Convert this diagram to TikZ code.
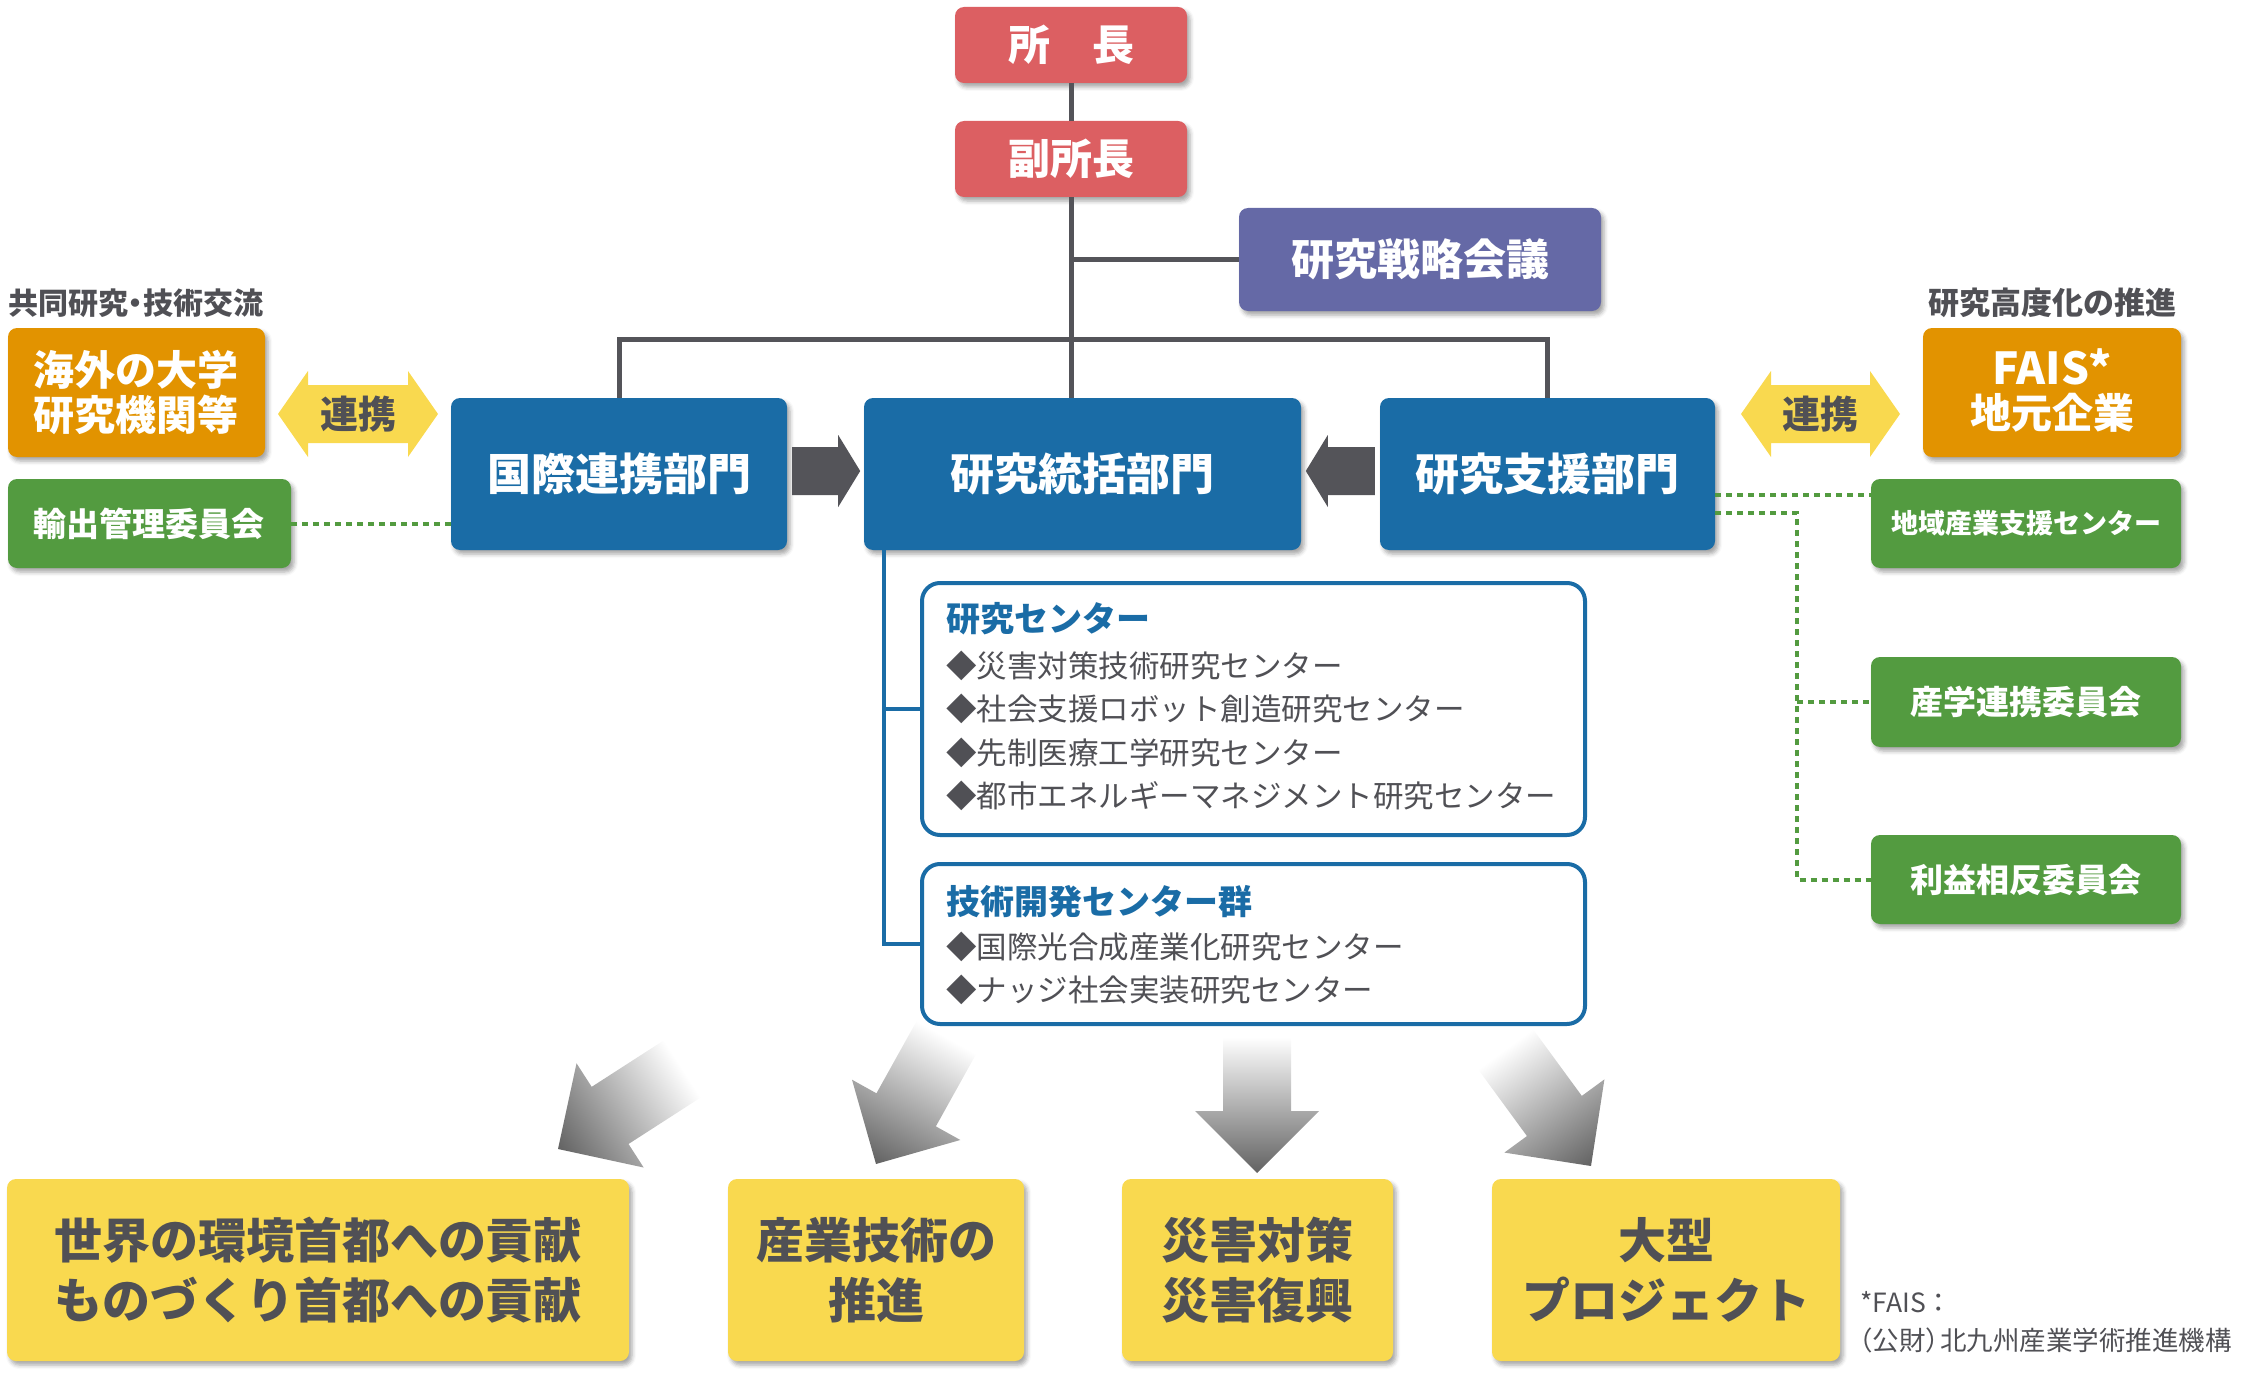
\documentclass[tikz,border=0pt]{standalone}
\usepackage{fontspec}
\setmainfont{Noto Sans CJK JP}
\usetikzlibrary{shadows.blur,calc}
\definecolor{cred}{HTML}{DC5F62}
\definecolor{cpurple}{HTML}{6569A6}
\definecolor{cblue}{HTML}{1A6CA6}
\definecolor{corange}{HTML}{E29300}
\definecolor{cyellow}{HTML}{F9D94F}
\definecolor{cgreen}{HTML}{539B40}
\definecolor{ctext}{HTML}{505055}
\definecolor{cline}{HTML}{545459}
\definecolor{carrow}{HTML}{626262}
\newcommand\fsz[2]{\fontsize{#1}{#2}\selectfont}
\newcommand\grarrow[4]{%
  \begin{scope}[transform canvas={shift={(#1,#2)},rotate=#3}]
    \shade[top color=white,bottom color=carrow] (0,0) -- (62,-62) -- (34,-62) -- (34,-#4) -- (-34,-#4) -- (-34,-62) -- (-62,-62) -- cycle;
  \end{scope}}
\begin{document}
\begin{tikzpicture}[x=1pt,y=-1pt,
  shd/.style={blur shadow={shadow xshift=3pt,shadow yshift=-4pt,shadow blur radius=4pt,shadow opacity=35}},
  box/.style={shd,rounded corners=9pt,inner sep=0pt,align=center,text=white},
  ybox/.style={box,fill=cyellow,text=ctext,font=\bfseries\fsz{48}{60}},
  gbox/.style={box,fill=cgreen},
  obox/.style={rounded corners=18pt,draw=cblue,line width=4pt,fill=white,inner sep=0pt},
  conn/.style={draw=cline,line width=5pt},
  bline/.style={draw=cblue,line width=4.5pt},
  dotg/.style={draw=cgreen,line width=4pt,dash pattern=on 6pt off 5pt},
  lbl/.style={text=ctext,font=\bfseries\fsz{30}{36},inner sep=0pt},
  item/.style={anchor=west,inner sep=0pt,text=ctext,font=\fsz{30.5}{36}},
  ititle/.style={anchor=west,inner sep=0pt,text=cblue,font=\bfseries\fsz{34}{40}},
  darrow/.style={fill=cline},
  yarrow/.style={fill=cyellow}]
\useasboundingbox (0,0) rectangle (2247,1375);

% top
\node[box,fill=cred,minimum width=232,minimum height=76,font=\bfseries\fsz{42}{48}] (shocho) at (1071,45) {所　長};
\node[box,fill=cred,minimum width=232,minimum height=76,font=\bfseries\fsz{42}{48}] (fuku) at (1071,159) {副所長};
\node[box,fill=cpurple,minimum width=362,minimum height=103,font=\bfseries\fsz{43}{48}] (senryaku) at (1420,259.5) {研究戦略会議};

% departments
\node[box,fill=cblue,minimum width=336,minimum height=152,font=\bfseries\fsz{44}{50}] (kokusai) at (619,474) {国際連携部門};
\node[box,fill=cblue,minimum width=437,minimum height=152,font=\bfseries\fsz{44}{50}] (tokatsu) at (1082.5,474) {研究統括部門};
\node[box,fill=cblue,minimum width=335,minimum height=152,font=\bfseries\fsz{44}{50}] (shien) at (1547.5,474) {研究支援部門};

% connectors top
\draw[conn] (shocho.south) -- (fuku.north);
\draw[conn] (fuku.south) -- (fuku.south |- tokatsu.north);
\draw[conn] (fuku.south |- senryaku.west) -- (senryaku.west);
\coordinate (bar) at (1071,339);
\draw[conn,line join=miter] (kokusai.north) |- (bar) -| (shien.north);

% dark arrows
\path[darrow] ($(kokusai.east)+(5,-27)$) -- ++(46,0) -- ++(0,-12) -- ++(22,36) -- ++(-22,36) -- ++(0,-12) -- ++(-46,0) -- cycle;
\path[darrow] ($(shien.west)+(-5,-27)$) -- ++(-47,0) -- ++(0,-12) -- ++(-22,36) -- ++(22,36) -- ++(0,-12) -- ++(47,0) -- cycle;

% left side
\node[lbl,anchor=west] (lblL) at (8,303) {共同研究\hspace{-7.5pt}・\hspace{-7.5pt}技術交流};
\node[box,fill=corange,minimum width=257,minimum height=129,font=\bfseries\fsz{41}{45}] (kaigai) at (136.5,392.5) {海外の大学\\研究機関等};
\node[gbox,minimum width=283,minimum height=89,font=\bfseries\fsz{33}{38}] (yushutsu) at (149.5,523.5) {輸出管理委員会};
\path[yarrow] (278,414) -- (308,371) -- (308,385) -- (408,385) -- (408,371) -- (438,414) -- (408,457) -- (408,443) -- (308,443) -- (308,457) -- cycle;
\node[text=ctext,font=\bfseries\fsz{38}{44},inner sep=0pt] (renL) at (358,414) {連携};
\draw[dotg] (yushutsu.east) -- (kokusai.west |- yushutsu.east);

% right side
\node[lbl,font=\bfseries\fsz{31}{36}] (lblR) at (2052,303) {研究高度化の推進};
\node[box,fill=corange,minimum width=258,minimum height=129] (fais) at (2052,392.5) {};
\node[text=white,font=\bfseries\fsz{44}{50},inner sep=0pt] (faisA) at (2052,367) {FAIS*};
\node[text=white,font=\bfseries\fsz{41}{46},inner sep=0pt] (faisB) at (2052,413) {地元企業};
\path[yarrow] (1741,414) -- (1771,371) -- (1771,385) -- (1870,385) -- (1870,371) -- (1900,414) -- (1870,457) -- (1870,443) -- (1771,443) -- (1771,457) -- cycle;
\node[text=ctext,font=\bfseries\fsz{38}{44},inner sep=0pt] (renR) at (1820.5,414) {連携};
\node[gbox,minimum width=310,minimum height=89,font=\bfseries\fsz{27}{32}] (chiiki) at (2026,523.5) {地域産業支援センター};
\node[gbox,minimum width=310,minimum height=90,font=\bfseries\fsz{33}{38}] (sangaku) at (2026,702) {産学連携委員会};
\node[gbox,minimum width=310,minimum height=89,font=\bfseries\fsz{33}{38}] (rieki) at (2026,879.5) {利益相反委員会};
\coordinate (d1) at (1715,495);
\coordinate (d2) at (1715,513);
\coordinate (dj) at (1797,513);
\draw[dotg] (d1) -- (d1 -| chiiki.west);
\draw[dotg] (d2) -- (dj) |- (rieki.west);
\draw[dotg] (dj |- sangaku.west) -- (sangaku.west);

% research centers
\node[obox,minimum width=663,minimum height=252] (rc1) at (1253.5,709) {};
\node[obox,minimum width=663,minimum height=160] (rc2) at (1253.5,944) {};
\coordinate (bl) at ($(tokatsu.south west)+(20,0)$);
\draw[bline] (bl) |- (rc2.west);
\draw[bline] (bl |- rc1.west) -- (rc1.west);
\node[ititle] (t1) at (946,619) {研究センター};
\node[item] (i1) at (946,666) {◆災害対策技術研究センター};
\node[item] (i2) at (946,709) {◆社会支援ロボット創造研究センター};
\node[item] (i3) at (946,753) {◆先制医療工学研究センター};
\node[item] (i4) at (946,796) {◆都市エネルギーマネジメント研究センター};
\node[ititle] (t2) at (946,902) {技術開発センター群};
\node[item] (i5) at (946,947) {◆国際光合成産業化研究センター};
\node[item] (i6) at (946,990) {◆ナッジ社会実装研究センター};

% gradient arrows
\grarrow{558}{1149}{-57.2}{148}
\grarrow{876}{1164}{-29.1}{145}
\grarrow{1257}{1173}{0}{136}
\grarrow{1591}{1166}{36.2}{145}

% bottom boxes
\node[ybox,minimum width=622,minimum height=182] (b1) at (318,1270) {世界の環境首都への貢献\\ものづくり首都への貢献};
\node[ybox,minimum width=296,minimum height=182] (b2) at (876,1270) {産業技術の\\推進};
\node[ybox,minimum width=271,minimum height=182] (b3) at (1257.5,1270) {災害対策\\災害復興};
\node[ybox,minimum width=348,minimum height=182] (b4) at (1666,1270) {大型\\プロジェクト};

% footnote
\node[anchor=west,inner sep=0pt,text=ctext,font=\fsz{26.5}{32}] (fn1) at (1860,1302) {*FAIS：};
\node[anchor=west,inner sep=0pt,text=ctext,font=\fsz{26.5}{32}] (fn2) at (1846,1340) {（公財）\hspace{-12pt}北九州産業学術推進機構};
\end{tikzpicture}
\end{document}
